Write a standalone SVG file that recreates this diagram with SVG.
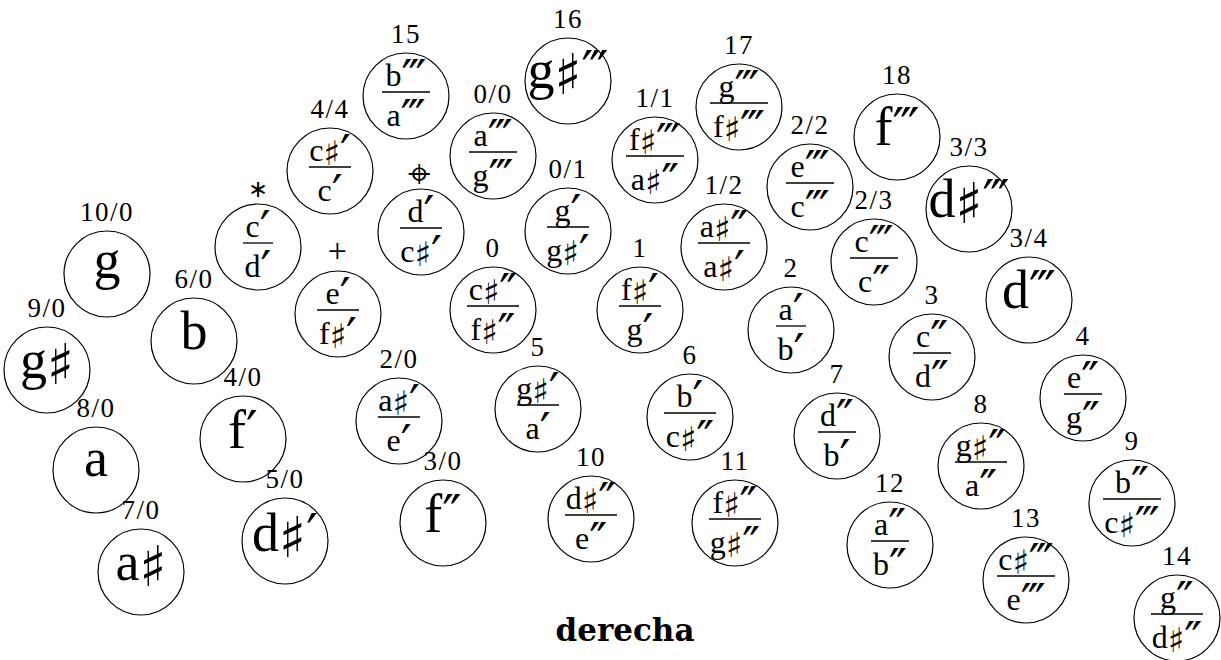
<svg xmlns="http://www.w3.org/2000/svg" width="1221" height="660" viewBox="0 0 1221 660">
<style>
circle{fill:none;stroke:#000;stroke-width:1.2}
text{font-family:"Liberation Serif","DejaVu Serif",serif;text-anchor:middle;fill:#000}
.lab{font-size:27px;letter-spacing:1.5px}
.big{font-size:54px}
.fr{font-size:32px}
.bar{stroke:#000;stroke-width:1.3}
.s{font-family:"DejaVu Sans",sans-serif}
.fr .s{font-size:34px;baseline-shift:-4px}
.big .s{font-size:56px;baseline-shift:-6px}
.p{font-family:"DejaVu Sans",sans-serif}
.fr .p{font-size:48px;baseline-shift:-8px}
.big .p{font-size:52px}
.sym{font-family:"DejaVu Sans",sans-serif;font-size:24px}
.tgt{font-family:"DejaVu Sans",sans-serif;font-size:40px}
.plus{font-size:34px}
.title{font-family:"DejaVu Serif",serif;font-weight:bold;font-size:31px}
</style>
<g id="nodes">
<g id="n1" transform="translate(107,274)"><circle r="43"/><text class="lab" y="-53">10/0</text><text class="big" y="4">g</text></g>
<g id="n2" transform="translate(47,370)"><circle r="43"/><text class="lab" y="-53">9/0</text><text class="big" y="8">g<tspan class="s">♯</tspan></text></g>
<g id="n3" transform="translate(96,470)"><circle r="43"/><text class="lab" y="-53">8/0</text><text class="big" y="6">a</text></g>
<g id="n4" transform="translate(141,572)"><circle r="43"/><text class="lab" y="-53">7/0</text><text class="big" y="8">a<tspan class="s">♯</tspan></text></g>
<g id="n5" transform="translate(194,341)"><circle r="43"/><text class="lab" y="-53">6/0</text><text class="big" y="8">b</text></g>
<g id="n6" transform="translate(243,439)"><circle r="43"/><text class="lab" y="-53">4/0</text><text class="big" y="9">f<tspan class="p">′</tspan></text></g>
<g id="n7" transform="translate(285,541)"><circle r="43"/><text class="lab" y="-53">5/0</text><text class="big" y="10">d<tspan class="s">♯</tspan><tspan class="p">′</tspan></text></g>
<g id="n8" transform="translate(443,523)"><circle r="43"/><text class="lab" y="-53">3/0</text><text class="big" y="9">f<tspan class="p">″</tspan></text></g>
<g id="n9" transform="translate(568,81)"><circle r="43"/><text class="lab" y="-53">16</text><text class="big" y="7">g<tspan class="s">♯</tspan><tspan class="p">‴</tspan></text></g>
<g id="n10" transform="translate(897,137)"><circle r="43"/><text class="lab" y="-53">18</text><text class="big" y="8">f<tspan class="p">‴</tspan></text></g>
<g id="n11" transform="translate(969,209)"><circle r="43"/><text class="lab" y="-53">3/3</text><text class="big" y="8">d<tspan class="s">♯</tspan><tspan class="p">‴</tspan></text></g>
<g id="n12" transform="translate(1029,300)"><circle r="43"/><text class="lab" y="-53">3/4</text><text class="big" y="8">d<tspan class="p">‴</tspan></text></g>

<g id="n13" transform="translate(258,247)"><circle r="43"/><text class="sym" y="-50">∗</text><text class="fr" y="-10">c<tspan class="p">′</tspan></text><line class="bar" x1="-15" y1="-4" x2="15" y2="-4"/><text class="fr" y="30">d<tspan class="p">′</tspan></text></g>
<g id="n14" transform="translate(330,171)"><circle r="43"/><text class="lab" y="-53">4/4</text><text class="fr" y="-10">c<tspan class="s">♯</tspan><tspan class="p">′</tspan></text><line class="bar" x1="-21" y1="-4" x2="21" y2="-4"/><text class="fr" y="30">c<tspan class="p">′</tspan></text></g>
<g id="n15" transform="translate(406,96)"><circle r="43"/><text class="lab" y="-53">15</text><text class="fr" y="-10">b<tspan class="p">‴</tspan></text><line class="bar" x1="-24" y1="-4" x2="24" y2="-4"/><text class="fr" y="30">a<tspan class="p">‴</tspan></text></g>
<g id="n16" transform="translate(421,232)"><circle r="43"/><text class="tgt" x="-2" y="-45">⌖</text><text class="fr" y="-10">d<tspan class="p">′</tspan></text><line class="bar" x1="-21" y1="-4" x2="21" y2="-4"/><text class="fr" y="30">c<tspan class="s">♯</tspan><tspan class="p">′</tspan></text></g>
<g id="n17" transform="translate(493,156)"><circle r="43"/><text class="lab" y="-53">0/0</text><text class="fr" y="-10">a<tspan class="p">‴</tspan></text><line class="bar" x1="-24" y1="-4" x2="24" y2="-4"/><text class="fr" y="30">g<tspan class="p">‴</tspan></text></g>
<g id="n18" transform="translate(655,160)"><circle r="43"/><text class="lab" y="-53">1/1</text><text class="fr" y="-10">f<tspan class="s">♯</tspan><tspan class="p">‴</tspan></text><line class="bar" x1="-29" y1="-4" x2="29" y2="-4"/><text class="fr" y="30">a<tspan class="s">♯</tspan><tspan class="p">″</tspan></text></g>
<g id="n19" transform="translate(739,107)"><circle r="43"/><text class="lab" y="-53">17</text><text class="fr" y="-10">g<tspan class="p">‴</tspan></text><line class="bar" x1="-29" y1="-4" x2="29" y2="-4"/><text class="fr" y="30">f<tspan class="s">♯</tspan><tspan class="p">‴</tspan></text></g>
<g id="n20" transform="translate(810,187)"><circle r="43"/><text class="lab" y="-53">2/2</text><text class="fr" y="-10">e<tspan class="p">‴</tspan></text><line class="bar" x1="-24" y1="-4" x2="24" y2="-4"/><text class="fr" y="30">c<tspan class="p">‴</tspan></text></g>
<g id="n21" transform="translate(568,231)"><circle r="43"/><text class="lab" y="-53">0/1</text><text class="fr" y="-10">g<tspan class="p">′</tspan></text><line class="bar" x1="-21" y1="-4" x2="21" y2="-4"/><text class="fr" y="30">g<tspan class="s">♯</tspan><tspan class="p">′</tspan></text></g>
<g id="n22" transform="translate(724,247)"><circle r="43"/><text class="lab" y="-53">1/2</text><text class="fr" y="-10">a<tspan class="s">♯</tspan><tspan class="p">″</tspan></text><line class="bar" x1="-26" y1="-4" x2="26" y2="-4"/><text class="fr" y="30">a<tspan class="s">♯</tspan><tspan class="p">′</tspan></text></g>
<g id="n23" transform="translate(874,262)"><circle r="43"/><text class="lab" y="-53">2/3</text><text class="fr" y="-10">c<tspan class="p">‴</tspan></text><line class="bar" x1="-24" y1="-4" x2="24" y2="-4"/><text class="fr" y="30">c<tspan class="p">″</tspan></text></g>
<g id="n24" transform="translate(932,357)"><circle r="43"/><text class="lab" y="-53">3</text><text class="fr" y="-10">c<tspan class="p">″</tspan></text><line class="bar" x1="-19" y1="-4" x2="19" y2="-4"/><text class="fr" y="30">d<tspan class="p">″</tspan></text></g>
<g id="n25" transform="translate(1083,398)"><circle r="43"/><text class="lab" y="-53">4</text><text class="fr" y="-10">e<tspan class="p">″</tspan></text><line class="bar" x1="-19" y1="-4" x2="19" y2="-4"/><text class="fr" y="30">g<tspan class="p">″</tspan></text></g>
<g id="n26" transform="translate(981,466)"><circle r="43"/><text class="lab" y="-53">8</text><text class="fr" y="-10">g<tspan class="s">♯</tspan><tspan class="p">″</tspan></text><line class="bar" x1="-26" y1="-4" x2="26" y2="-4"/><text class="fr" y="30">a<tspan class="p">″</tspan></text></g>
<g id="n27" transform="translate(1132,503)"><circle r="43"/><text class="lab" y="-53">9</text><text class="fr" y="-10">b<tspan class="p">″</tspan></text><line class="bar" x1="-29" y1="-4" x2="29" y2="-4"/><text class="fr" y="30">c<tspan class="s">♯</tspan><tspan class="p">‴</tspan></text></g>
<g id="n28" transform="translate(890,545)"><circle r="43"/><text class="lab" y="-53">12</text><text class="fr" y="-10">a<tspan class="p">″</tspan></text><line class="bar" x1="-19" y1="-4" x2="19" y2="-4"/><text class="fr" y="30">b<tspan class="p">″</tspan></text></g>
<g id="n29" transform="translate(1026,580)"><circle r="43"/><text class="lab" y="-53">13</text><text class="fr" y="-10">c<tspan class="s">♯</tspan><tspan class="p">‴</tspan></text><line class="bar" x1="-29" y1="-4" x2="29" y2="-4"/><text class="fr" y="30">e<tspan class="p">‴</tspan></text></g>
<g id="n30" transform="translate(1177,618)"><circle r="43"/><text class="lab" y="-53">14</text><text class="fr" y="-10">g<tspan class="p">″</tspan></text><line class="bar" x1="-26" y1="-4" x2="26" y2="-4"/><text class="fr" y="30">d<tspan class="s">♯</tspan><tspan class="p">″</tspan></text></g>
<g id="n31" transform="translate(338,314)"><circle r="43"/><text class="lab plus" y="-52">+</text><text class="fr" y="-10">e<tspan class="p">′</tspan></text><line class="bar" x1="-21" y1="-4" x2="21" y2="-4"/><text class="fr" y="30">f<tspan class="s">♯</tspan><tspan class="p">′</tspan></text></g>
<g id="n32" transform="translate(493,310)"><circle r="43"/><text class="lab" y="-53">0</text><text class="fr" y="-10">c<tspan class="s">♯</tspan><tspan class="p">″</tspan></text><line class="bar" x1="-26" y1="-4" x2="26" y2="-4"/><text class="fr" y="30">f<tspan class="s">♯</tspan><tspan class="p">″</tspan></text></g>
<g id="n33" transform="translate(399,421)"><circle r="43"/><text class="lab" y="-53">2/0</text><text class="fr" y="-10">a<tspan class="s">♯</tspan><tspan class="p">′</tspan></text><line class="bar" x1="-21" y1="-4" x2="21" y2="-4"/><text class="fr" y="30">e<tspan class="p">′</tspan></text></g>
<g id="n34" transform="translate(538,409)"><circle r="43"/><text class="lab" y="-53">5</text><text class="fr" y="-10">g<tspan class="s">♯</tspan><tspan class="p">′</tspan></text><line class="bar" x1="-21" y1="-4" x2="21" y2="-4"/><text class="fr" y="30">a<tspan class="p">′</tspan></text></g>
<g id="n35" transform="translate(640,310)"><circle r="43"/><text class="lab" y="-53">1</text><text class="fr" y="-10">f<tspan class="s">♯</tspan><tspan class="p">′</tspan></text><line class="bar" x1="-21" y1="-4" x2="21" y2="-4"/><text class="fr" y="30">g<tspan class="p">′</tspan></text></g>
<g id="n36" transform="translate(791,330)"><circle r="43"/><text class="lab" y="-53">2</text><text class="fr" y="-10">a<tspan class="p">′</tspan></text><line class="bar" x1="-15" y1="-4" x2="15" y2="-4"/><text class="fr" y="30">b<tspan class="p">′</tspan></text></g>
<g id="n37" transform="translate(690,417)"><circle r="43"/><text class="lab" y="-53">6</text><text class="fr" y="-10">b<tspan class="p">′</tspan></text><line class="bar" x1="-26" y1="-4" x2="26" y2="-4"/><text class="fr" y="30">c<tspan class="s">♯</tspan><tspan class="p">″</tspan></text></g>
<g id="n38" transform="translate(837,436)"><circle r="43"/><text class="lab" y="-53">7</text><text class="fr" y="-10">d<tspan class="p">″</tspan></text><line class="bar" x1="-19" y1="-4" x2="19" y2="-4"/><text class="fr" y="30">b<tspan class="p">′</tspan></text></g>
<g id="n39" transform="translate(591,519)"><circle r="43"/><text class="lab" y="-53">10</text><text class="fr" y="-10">d<tspan class="s">♯</tspan><tspan class="p">″</tspan></text><line class="bar" x1="-26" y1="-4" x2="26" y2="-4"/><text class="fr" y="30">e<tspan class="p">″</tspan></text></g>
<g id="n40" transform="translate(735,523)"><circle r="43"/><text class="lab" y="-53">11</text><text class="fr" y="-10">f<tspan class="s">♯</tspan><tspan class="p">″</tspan></text><line class="bar" x1="-26" y1="-4" x2="26" y2="-4"/><text class="fr" y="30">g<tspan class="s">♯</tspan><tspan class="p">″</tspan></text></g>
</g>
<g id="connectors"/>
<text class="title" x="625" y="641">derecha</text>
</svg>
